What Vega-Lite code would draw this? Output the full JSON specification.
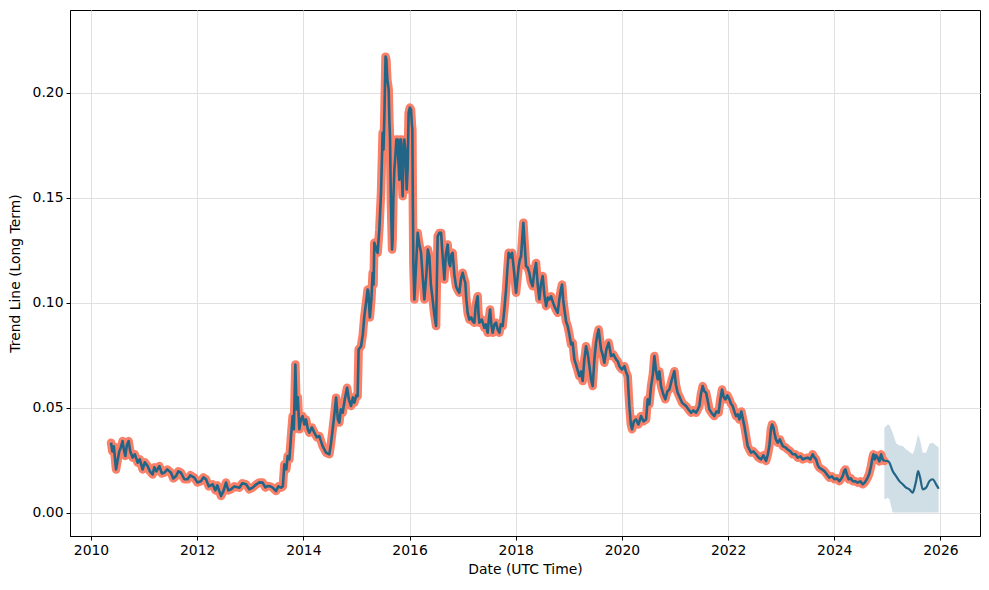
{
  "$schema": "https://vega.github.io/schema/vega-lite/v6.json",
  "width": 910,
  "height": 526,
  "autosize": {"type": "none"},
  "padding": {"left": 70, "top": 10, "right": 9, "bottom": 54},
  "background": "white",
  "config": {
    "view": {"stroke": "black", "strokeWidth": 1},
    "font": "DejaVu Sans",
    "axis": {
      "labelFont": "DejaVu Sans", "titleFont": "DejaVu Sans",
      "labelFontSize": 13.9, "titleFontSize": 13.9, "titleFontWeight": "normal",
      "labelColor": "black", "titleColor": "black",
      "domainColor": "black", "tickColor": "black", "tickSize": 4,
      "gridColor": "#e0e0e0", "gridWidth": 1
    }
  },
  "data": {"values": [
{"t":2010.377,"v":0.0333},{"t":2010.401,"v":0.0292},{"t":2010.430,"v":0.0316},{"t":2010.471,"v":0.0206},{"t":2010.505,"v":0.0254},{"t":2010.533,"v":0.0292},{"t":2010.561,"v":0.0311},{"t":2010.595,"v":0.0341},{"t":2010.618,"v":0.0301},{"t":2010.646,"v":0.0270},{"t":2010.674,"v":0.0320},{"t":2010.708,"v":0.0341},{"t":2010.740,"v":0.0292},{"t":2010.784,"v":0.0262},{"t":2010.825,"v":0.0278},{"t":2010.878,"v":0.0238},{"t":2010.919,"v":0.0254},{"t":2010.972,"v":0.0206},{"t":2011.014,"v":0.0240},{"t":2011.066,"v":0.0222},{"t":2011.108,"v":0.0197},{"t":2011.160,"v":0.0182},{"t":2011.193,"v":0.0216},{"t":2011.230,"v":0.0197},{"t":2011.287,"v":0.0222},{"t":2011.334,"v":0.0187},{"t":2011.381,"v":0.0190},{"t":2011.437,"v":0.0206},{"t":2011.507,"v":0.0190},{"t":2011.550,"v":0.0163},{"t":2011.601,"v":0.0174},{"t":2011.645,"v":0.0197},{"t":2011.695,"v":0.0190},{"t":2011.758,"v":0.0159},{"t":2011.820,"v":0.0159},{"t":2011.871,"v":0.0178},{"t":2011.946,"v":0.0167},{"t":2012.003,"v":0.0144},{"t":2012.072,"v":0.0150},{"t":2012.116,"v":0.0168},{"t":2012.166,"v":0.0159},{"t":2012.219,"v":0.0125},{"t":2012.291,"v":0.0135},{"t":2012.342,"v":0.0106},{"t":2012.379,"v":0.0130},{"t":2012.449,"v":0.0079},{"t":2012.492,"v":0.0101},{"t":2012.543,"v":0.0143},{"t":2012.587,"v":0.0106},{"t":2012.638,"v":0.0111},{"t":2012.700,"v":0.0125},{"t":2012.794,"v":0.0119},{"t":2012.850,"v":0.0140},{"t":2012.920,"v":0.0135},{"t":2012.982,"v":0.0111},{"t":2013.044,"v":0.0119},{"t":2013.114,"v":0.0135},{"t":2013.171,"v":0.0144},{"t":2013.233,"v":0.0143},{"t":2013.284,"v":0.0120},{"t":2013.327,"v":0.0127},{"t":2013.378,"v":0.0125},{"t":2013.421,"v":0.0119},{"t":2013.485,"v":0.0103},{"t":2013.529,"v":0.0125},{"t":2013.579,"v":0.0119},{"t":2013.613,"v":0.0125},{"t":2013.642,"v":0.0230},{"t":2013.679,"v":0.0206},{"t":2013.704,"v":0.0270},{"t":2013.736,"v":0.0254},{"t":2013.768,"v":0.0365},{"t":2013.798,"v":0.0460},{"t":2013.821,"v":0.0397},{"t":2013.849,"v":0.0706},{"t":2013.873,"v":0.0492},{"t":2013.896,"v":0.0549},{"t":2013.924,"v":0.0397},{"t":2013.952,"v":0.0444},{"t":2013.986,"v":0.0460},{"t":2014.018,"v":0.0420},{"t":2014.050,"v":0.0444},{"t":2014.084,"v":0.0397},{"t":2014.113,"v":0.0381},{"t":2014.160,"v":0.0406},{"t":2014.207,"v":0.0381},{"t":2014.254,"v":0.0359},{"t":2014.301,"v":0.0365},{"t":2014.363,"v":0.0317},{"t":2014.427,"v":0.0286},{"t":2014.489,"v":0.0278},{"t":2014.518,"v":0.0325},{"t":2014.552,"v":0.0397},{"t":2014.584,"v":0.0468},{"t":2014.616,"v":0.0548},{"t":2014.650,"v":0.0444},{"t":2014.678,"v":0.0429},{"t":2014.706,"v":0.0492},{"t":2014.740,"v":0.0476},{"t":2014.781,"v":0.0540},{"t":2014.823,"v":0.0595},{"t":2014.857,"v":0.0540},{"t":2014.898,"v":0.0508},{"t":2014.932,"v":0.0549},{"t":2014.960,"v":0.0524},{"t":2014.998,"v":0.0559},{"t":2015.022,"v":0.0555},{"t":2015.041,"v":0.0778},{"t":2015.087,"v":0.0793},{"t":2015.120,"v":0.0849},{"t":2015.149,"v":0.0936},{"t":2015.181,"v":0.1000},{"t":2015.211,"v":0.1063},{"t":2015.224,"v":0.1054},{"t":2015.252,"v":0.0930},{"t":2015.281,"v":0.1016},{"t":2015.305,"v":0.1143},{"t":2015.322,"v":0.1087},{"t":2015.337,"v":0.1286},{"t":2015.375,"v":0.1254},{"t":2015.399,"v":0.1238},{"t":2015.431,"v":0.1349},{"t":2015.463,"v":0.1524},{"t":2015.493,"v":0.1810},{"t":2015.510,"v":0.1730},{"t":2015.526,"v":0.1889},{"t":2015.548,"v":0.2173},{"t":2015.563,"v":0.2159},{"t":2015.582,"v":0.2063},{"t":2015.607,"v":0.2016},{"t":2015.620,"v":0.1873},{"t":2015.633,"v":0.1778},{"t":2015.648,"v":0.1492},{"t":2015.671,"v":0.1254},{"t":2015.682,"v":0.1301},{"t":2015.695,"v":0.1492},{"t":2015.714,"v":0.1635},{"t":2015.733,"v":0.1698},{"t":2015.752,"v":0.1778},{"t":2015.776,"v":0.1778},{"t":2015.789,"v":0.1682},{"t":2015.808,"v":0.1587},{"t":2015.827,"v":0.1778},{"t":2015.840,"v":0.1778},{"t":2015.855,"v":0.1611},{"t":2015.870,"v":0.1508},{"t":2015.887,"v":0.1730},{"t":2015.902,"v":0.1778},{"t":2015.921,"v":0.1730},{"t":2015.946,"v":0.1540},{"t":2015.964,"v":0.1635},{"t":2015.983,"v":0.1905},{"t":2016.006,"v":0.1930},{"t":2016.028,"v":0.1920},{"t":2016.044,"v":0.1849},{"t":2016.053,"v":0.1825},{"t":2016.062,"v":0.1492},{"t":2016.072,"v":0.1190},{"t":2016.091,"v":0.1016},{"t":2016.119,"v":0.1159},{"t":2016.153,"v":0.1333},{"t":2016.185,"v":0.1278},{"t":2016.217,"v":0.1238},{"t":2016.251,"v":0.1111},{"t":2016.279,"v":0.1016},{"t":2016.317,"v":0.1135},{"t":2016.345,"v":0.1254},{"t":2016.373,"v":0.1222},{"t":2016.402,"v":0.1087},{"t":2016.435,"v":0.1016},{"t":2016.467,"v":0.0944},{"t":2016.500,"v":0.0889},{"t":2016.515,"v":0.1111},{"t":2016.530,"v":0.1317},{"t":2016.562,"v":0.1333},{"t":2016.594,"v":0.1333},{"t":2016.628,"v":0.1206},{"t":2016.656,"v":0.1111},{"t":2016.684,"v":0.1230},{"t":2016.718,"v":0.1278},{"t":2016.741,"v":0.1197},{"t":2016.763,"v":0.1174},{"t":2016.788,"v":0.1230},{"t":2016.812,"v":0.1238},{"t":2016.844,"v":0.1135},{"t":2016.876,"v":0.1079},{"t":2016.901,"v":0.1063},{"t":2016.938,"v":0.1048},{"t":2016.967,"v":0.1111},{"t":2017.001,"v":0.1143},{"t":2017.033,"v":0.1111},{"t":2017.051,"v":0.1095},{"t":2017.070,"v":0.1016},{"t":2017.095,"v":0.0952},{"t":2017.127,"v":0.0920},{"t":2017.164,"v":0.0930},{"t":2017.193,"v":0.0911},{"t":2017.221,"v":0.0905},{"t":2017.249,"v":0.0992},{"t":2017.283,"v":0.1031},{"t":2017.300,"v":0.0944},{"t":2017.315,"v":0.0905},{"t":2017.362,"v":0.0920},{"t":2017.409,"v":0.0881},{"t":2017.438,"v":0.0897},{"t":2017.472,"v":0.0857},{"t":2017.494,"v":0.0920},{"t":2017.517,"v":0.0968},{"t":2017.541,"v":0.0897},{"t":2017.566,"v":0.0857},{"t":2017.598,"v":0.0897},{"t":2017.630,"v":0.0905},{"t":2017.660,"v":0.0873},{"t":2017.692,"v":0.0857},{"t":2017.720,"v":0.0897},{"t":2017.754,"v":0.0889},{"t":2017.786,"v":0.0968},{"t":2017.818,"v":0.1063},{"t":2017.843,"v":0.1159},{"t":2017.867,"v":0.1238},{"t":2017.899,"v":0.1216},{"t":2017.931,"v":0.1238},{"t":2017.965,"v":0.1159},{"t":2018.007,"v":0.1048},{"t":2018.031,"v":0.1111},{"t":2018.056,"v":0.1174},{"t":2018.078,"v":0.1206},{"t":2018.101,"v":0.1222},{"t":2018.122,"v":0.1301},{"t":2018.144,"v":0.1381},{"t":2018.169,"v":0.1278},{"t":2018.195,"v":0.1174},{"t":2018.225,"v":0.1168},{"t":2018.257,"v":0.1143},{"t":2018.285,"v":0.1101},{"t":2018.319,"v":0.1079},{"t":2018.351,"v":0.1149},{"t":2018.383,"v":0.1190},{"t":2018.414,"v":0.1087},{"t":2018.446,"v":0.1016},{"t":2018.474,"v":0.1087},{"t":2018.508,"v":0.1127},{"t":2018.540,"v":0.1040},{"t":2018.572,"v":0.0984},{"t":2018.606,"v":0.1025},{"t":2018.634,"v":0.1016},{"t":2018.666,"v":0.1031},{"t":2018.696,"v":0.1006},{"t":2018.728,"v":0.0984},{"t":2018.756,"v":0.0968},{"t":2018.790,"v":0.0952},{"t":2018.822,"v":0.1016},{"t":2018.851,"v":0.1063},{"t":2018.873,"v":0.1087},{"t":2018.894,"v":0.1016},{"t":2018.917,"v":0.0968},{"t":2018.949,"v":0.0911},{"t":2018.979,"v":0.0889},{"t":2019.011,"v":0.0849},{"t":2019.043,"v":0.0801},{"t":2019.073,"v":0.0810},{"t":2019.105,"v":0.0730},{"t":2019.152,"v":0.0692},{"t":2019.199,"v":0.0650},{"t":2019.231,"v":0.0673},{"t":2019.261,"v":0.0627},{"t":2019.293,"v":0.0730},{"t":2019.325,"v":0.0793},{"t":2019.359,"v":0.0754},{"t":2019.388,"v":0.0698},{"t":2019.420,"v":0.0635},{"t":2019.450,"v":0.0603},{"t":2019.482,"v":0.0730},{"t":2019.514,"v":0.0810},{"t":2019.538,"v":0.0849},{"t":2019.563,"v":0.0873},{"t":2019.585,"v":0.0825},{"t":2019.608,"v":0.0778},{"t":2019.642,"v":0.0749},{"t":2019.670,"v":0.0714},{"t":2019.708,"v":0.0778},{"t":2019.751,"v":0.0810},{"t":2019.774,"v":0.0778},{"t":2019.796,"v":0.0746},{"t":2019.840,"v":0.0754},{"t":2019.891,"v":0.0730},{"t":2019.924,"v":0.0720},{"t":2019.953,"v":0.0698},{"t":2020.000,"v":0.0682},{"t":2020.047,"v":0.0698},{"t":2020.075,"v":0.0673},{"t":2020.109,"v":0.0650},{"t":2020.141,"v":0.0508},{"t":2020.169,"v":0.0420},{"t":2020.192,"v":0.0397},{"t":2020.226,"v":0.0435},{"t":2020.267,"v":0.0444},{"t":2020.311,"v":0.0420},{"t":2020.361,"v":0.0460},{"t":2020.405,"v":0.0435},{"t":2020.456,"v":0.0444},{"t":2020.486,"v":0.0540},{"t":2020.518,"v":0.0516},{"t":2020.550,"v":0.0603},{"t":2020.584,"v":0.0659},{"t":2020.612,"v":0.0746},{"t":2020.640,"v":0.0682},{"t":2020.674,"v":0.0635},{"t":2020.706,"v":0.0673},{"t":2020.738,"v":0.0603},{"t":2020.782,"v":0.0563},{"t":2020.819,"v":0.0540},{"t":2020.857,"v":0.0578},{"t":2020.895,"v":0.0587},{"t":2020.942,"v":0.0635},{"t":2020.989,"v":0.0674},{"t":2021.017,"v":0.0611},{"t":2021.051,"v":0.0571},{"t":2021.092,"v":0.0549},{"t":2021.134,"v":0.0524},{"t":2021.168,"v":0.0516},{"t":2021.209,"v":0.0508},{"t":2021.253,"v":0.0492},{"t":2021.303,"v":0.0476},{"t":2021.347,"v":0.0487},{"t":2021.398,"v":0.0476},{"t":2021.432,"v":0.0492},{"t":2021.460,"v":0.0508},{"t":2021.488,"v":0.0563},{"t":2021.522,"v":0.0603},{"t":2021.554,"v":0.0578},{"t":2021.586,"v":0.0571},{"t":2021.620,"v":0.0530},{"t":2021.648,"v":0.0492},{"t":2021.695,"v":0.0473},{"t":2021.742,"v":0.0460},{"t":2021.780,"v":0.0482},{"t":2021.823,"v":0.0476},{"t":2021.855,"v":0.0540},{"t":2021.887,"v":0.0587},{"t":2021.921,"v":0.0549},{"t":2021.950,"v":0.0540},{"t":2021.987,"v":0.0559},{"t":2022.025,"v":0.0540},{"t":2022.053,"v":0.0520},{"t":2022.087,"v":0.0508},{"t":2022.119,"v":0.0482},{"t":2022.151,"v":0.0460},{"t":2022.185,"v":0.0468},{"t":2022.213,"v":0.0444},{"t":2022.251,"v":0.0482},{"t":2022.308,"v":0.0412},{"t":2022.370,"v":0.0317},{"t":2022.402,"v":0.0301},{"t":2022.434,"v":0.0286},{"t":2022.477,"v":0.0292},{"t":2022.528,"v":0.0278},{"t":2022.571,"v":0.0263},{"t":2022.622,"v":0.0254},{"t":2022.665,"v":0.0273},{"t":2022.716,"v":0.0246},{"t":2022.750,"v":0.0278},{"t":2022.778,"v":0.0317},{"t":2022.807,"v":0.0397},{"t":2022.829,"v":0.0420},{"t":2022.854,"v":0.0406},{"t":2022.873,"v":0.0381},{"t":2022.901,"v":0.0349},{"t":2022.935,"v":0.0333},{"t":2022.976,"v":0.0349},{"t":2023.029,"v":0.0317},{"t":2023.080,"v":0.0311},{"t":2023.123,"v":0.0301},{"t":2023.174,"v":0.0292},{"t":2023.218,"v":0.0278},{"t":2023.268,"v":0.0278},{"t":2023.312,"v":0.0262},{"t":2023.363,"v":0.0268},{"t":2023.406,"v":0.0254},{"t":2023.457,"v":0.0259},{"t":2023.500,"v":0.0262},{"t":2023.551,"v":0.0254},{"t":2023.594,"v":0.0278},{"t":2023.626,"v":0.0263},{"t":2023.658,"v":0.0254},{"t":2023.692,"v":0.0225},{"t":2023.720,"v":0.0214},{"t":2023.768,"v":0.0206},{"t":2023.815,"v":0.0198},{"t":2023.862,"v":0.0182},{"t":2023.909,"v":0.0167},{"t":2023.956,"v":0.0173},{"t":2024.003,"v":0.0159},{"t":2024.050,"v":0.0163},{"t":2024.097,"v":0.0150},{"t":2024.135,"v":0.0163},{"t":2024.160,"v":0.0174},{"t":2024.186,"v":0.0197},{"t":2024.210,"v":0.0206},{"t":2024.239,"v":0.0182},{"t":2024.273,"v":0.0159},{"t":2024.314,"v":0.0163},{"t":2024.348,"v":0.0150},{"t":2024.399,"v":0.0149},{"t":2024.442,"v":0.0143},{"t":2024.493,"v":0.0149},{"t":2024.536,"v":0.0135},{"t":2024.578,"v":0.0144},{"t":2024.630,"v":0.0167},{"t":2024.662,"v":0.0187},{"t":2024.694,"v":0.0222},{"t":2024.715,"v":0.0254},{"t":2024.738,"v":0.0278},{"t":2024.766,"v":0.0254},{"t":2024.785,"v":0.0273},{"t":2024.819,"v":0.0262},{"t":2024.851,"v":0.0244},{"t":2024.883,"v":0.0278},{"t":2024.913,"v":0.0254},
{"t":2024.945,"v":0.0246,"lo":0.0063,"hi":0.0405,"fc":1},
{"t":2025.007,"v":0.0246,"lo":0.0071,"hi":0.0420,"f":1,"fc":1},{"t":2025.039,"v":0.0238,"lo":0.0065,"hi":0.0418,"f":1,"fc":1},{"t":2025.101,"v":0.0198,"lo":0.0,"hi":0.0381,"f":1,"fc":1},{"t":2025.165,"v":0.0174,"lo":0.0,"hi":0.0330,"f":1,"fc":1},{"t":2025.228,"v":0.0150,"lo":0.0,"hi":0.0320,"f":1,"fc":1},{"t":2025.290,"v":0.0135,"lo":0.0,"hi":0.0317,"f":1,"fc":1},{"t":2025.354,"v":0.0119,"lo":0.0,"hi":0.0301,"f":1,"fc":1},{"t":2025.416,"v":0.0111,"lo":0.0,"hi":0.0290,"f":1,"fc":1},{"t":2025.478,"v":0.0095,"lo":0.0,"hi":0.0278,"f":1,"fc":1},{"t":2025.510,"v":0.0116,"lo":0.0,"hi":0.0300,"f":1,"fc":1},{"t":2025.542,"v":0.0150,"lo":0.0,"hi":0.0330,"f":1,"fc":1},{"t":2025.580,"v":0.0198,"lo":0.0,"hi":0.0373,"f":1,"fc":1},{"t":2025.618,"v":0.0167,"lo":0.0,"hi":0.0345,"f":1,"fc":1},{"t":2025.667,"v":0.0111,"lo":0.0,"hi":0.0285,"f":1,"fc":1},{"t":2025.731,"v":0.0119,"lo":0.0,"hi":0.0285,"f":1,"fc":1},{"t":2025.793,"v":0.0150,"lo":0.0,"hi":0.0328,"f":1,"fc":1},{"t":2025.855,"v":0.0159,"lo":0.0,"hi":0.0333,"f":1,"fc":1},{"t":2025.919,"v":0.0135,"lo":0.0,"hi":0.0320,"f":1,"fc":1},{"t":2025.968,"v":0.0114,"lo":0.0,"hi":0.0310,"f":1,"fc":1}
  ]},
  "encoding": {
    "x": {
      "field": "t", "type": "quantitative",
      "scale": {"domain": [2009.604, 2026.746], "nice": false, "zero": false},
      "axis": {"values": [2010, 2012, 2014, 2016, 2018, 2020, 2022, 2024, 2026], "format": "d", "title": "Date (UTC Time)", "labelPadding": 3, "titlePadding": 6, "grid": true, "labelFlush": false}
    }
  },
  "layer": [
    {
      "transform": [{"filter": "isValid(datum.hi)"}],
      "mark": {"type": "area", "color": "#236586", "opacity": 0.21},
      "encoding": {
        "y": {"field": "lo", "type": "quantitative"},
        "y2": {"field": "hi"}
      }
    },
    {
      "transform": [{"filter": "!isValid(datum.f)"}],
      "mark": {"type": "line", "color": "#fa8068", "strokeWidth": 8.5, "strokeJoin": "round", "strokeCap": "round"},
      "encoding": {
        "y": {"field": "v", "type": "quantitative"}
      }
    },
    {
      "transform": [{"filter": "!isValid(datum.f)"}],
      "mark": {"type": "line", "color": "#236586", "strokeWidth": 2.6, "strokeJoin": "round"},
      "encoding": {
        "y": {"field": "v", "type": "quantitative"}
      }
    },
    {
      "transform": [{"filter": "isValid(datum.fc)"}],
      "mark": {"type": "line", "color": "#236586", "strokeWidth": 2.2, "strokeJoin": "round", "interpolate": "monotone"},
      "encoding": {
        "y": {
          "field": "v", "type": "quantitative",
          "scale": {"domain": [-0.01114, 0.23952], "nice": false, "zero": false},
          "axis": {"values": [0, 0.05, 0.1, 0.15, 0.2], "format": ".2f", "title": "Trend Line (Long Term)", "labelPadding": 3, "titlePadding": 10, "grid": true}
        }
      }
    }
  ],
  "resolve": {"scale": {"y": "shared"}}
}
